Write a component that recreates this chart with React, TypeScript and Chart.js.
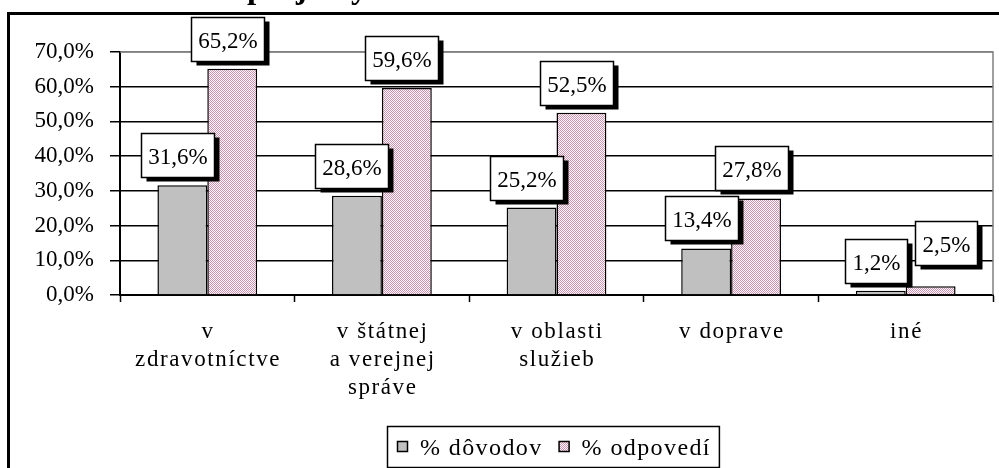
import React, { useEffect, useRef } from 'react';
import { Chart, registerables } from 'chart.js';

Chart.register(...registerables);

// ---- data ----
const categories: string[][] = [
  ['v', 'zdravotníctve'],
  ['v štátnej', 'a verejnej', 'správe'],
  ['v oblasti', 'služieb'],
  ['v doprave'],
  ['iné'],
];
const seriesNames = ['% dôvodov', '% odpovedí'];
const dovodov = [31.6, 28.6, 25.2, 13.4, 1.2];
const odpovedi = [65.2, 59.6, 52.5, 27.8, 2.5];
const yMin = 0;
const yMax = 70;
const yStep = 10;
const titleText = 'projekty';
// label nudges (dx, dy) per series, to mimic Excel overlap avoidance
const labelNudgeDovodov = [[0, 0], [0, 0], [0, 0], [0, 0], [0, 0]];
const labelNudgeOdpovedi = [[0, 0], [0, 0], [0, 0], [0, 0], [20, -13]];

const SERIF = '"Liberation Serif", "Times New Roman", serif';
const fmt = (v: number) => v.toFixed(1).replace('.', ',') + '%';

function makePattern(): CanvasPattern | string {
  const c = document.createElement('canvas');
  c.width = 2;
  c.height = 2;
  const g = c.getContext('2d');
  if (!g) return '#e6c3d3';
  g.fillStyle = '#ffffff';
  g.fillRect(0, 0, 2, 2);
  g.fillStyle = '#d690ae';
  g.fillRect(0, 0, 1, 1);
  g.fillRect(1, 1, 1, 1);
  const p = g.createPattern(c, 'repeat');
  return p || '#e6c3d3';
}

const decorPlugin = {
  id: 'decor',
  beforeDraw(chart: any) {
    const ctx: CanvasRenderingContext2D = chart.ctx;
    ctx.save();
    ctx.fillStyle = '#ffffff';
    ctx.fillRect(0, 0, chart.width, chart.height);
    // partially visible title (cut at top)
    ctx.font = `bold 33px ${SERIF}`;
    ctx.fillStyle = '#000';
    ctx.textAlign = 'left';
    ctx.textBaseline = 'alphabetic';
    ctx.fillText(titleText, 247, -2);
    // outer frame
    ctx.lineWidth = 3;
    ctx.strokeStyle = '#000';
    ctx.strokeRect(8.5, 13.5, 1200, 1000);
    ctx.restore();
  },
  beforeDatasetsDraw(chart: any) {
    const ctx: CanvasRenderingContext2D = chart.ctx;
    const a = chart.chartArea;
    ctx.save();
    ctx.strokeStyle = '#808080';
    ctx.lineWidth = 1.5;
    ctx.beginPath();
    ctx.moveTo(a.left, a.top);
    ctx.lineTo(a.right, a.top);
    ctx.lineTo(a.right, a.bottom);
    ctx.stroke();
    ctx.restore();
  },
  afterDatasetsDraw(chart: any) {
    const ctx: CanvasRenderingContext2D = chart.ctx;
    const nudges = [labelNudgeDovodov, labelNudgeOdpovedi];
    ctx.save();
    ctx.font = `23px ${SERIF}`;
    (ctx as any).letterSpacing = '0px';
    ctx.textAlign = 'center';
    ctx.textBaseline = 'alphabetic';
    chart.data.datasets.forEach((ds: any, di: number) => {
      const meta = chart.getDatasetMeta(di);
      meta.data.forEach((bar: any, i: number) => {
        const v = ds.data[i] as number;
        const text = fmt(v);
        const tw = ctx.measureText(text).width;
        const w = Math.round(tw + 14);
        const h = 44;
        const [dx, dy] = nudges[di][i];
        const cx = bar.x - 5 + dx;
        const bottom = bar.y - 8 + dy;
        const x = Math.round(cx - w / 2) + 0.5;
        const y = Math.round(bottom - h) + 0.5;
        ctx.fillStyle = '#000';
        ctx.fillRect(x + 5, y + 4, w, h);
        ctx.fillStyle = '#fff';
        ctx.fillRect(x, y, w, h);
        ctx.strokeStyle = '#000';
        ctx.lineWidth = 1.5;
        ctx.strokeRect(x, y, w, h);
        ctx.fillStyle = '#000';
        ctx.fillText(text, x + w / 2, y + h / 2 + 8.5);
      });
    });
    ctx.restore();
  },
  afterDraw(chart: any) {
    const ctx: CanvasRenderingContext2D = chart.ctx;
    const xs = chart.scales.x;
    ctx.save();
    // category labels
    ctx.font = `23px ${SERIF}`;
    (ctx as any).letterSpacing = '1.6px';
    ctx.fillStyle = '#000';
    ctx.textAlign = 'center';
    ctx.textBaseline = 'alphabetic';
    (chart.data.labels as string[][]).forEach((lines, i) => {
      const cx = xs.getPixelForValue(i) + 0.8;
      lines.forEach((line, j) => {
        ctx.fillText(line, cx, 338 + j * 28);
      });
    });
    // legend
    ctx.font = `24px ${SERIF}`;
    (ctx as any).letterSpacing = '1.4px';
    ctx.textAlign = 'left';
    const boxL = 387;
    const boxT = 426;
    const boxH = 41;
    const sq = 11;
    const items = chart.data.datasets.map((ds: any) => ({
      label: ds.label as string,
      fill: ds.backgroundColor,
      w: ctx.measureText(ds.label).width,
    }));
    let total = 10;
    items.forEach((it: any, k: number) => {
      total += sq + 12 + it.w;
      if (k < items.length - 1) total += 16;
    });
    total += 8;
    ctx.strokeStyle = '#000';
    ctx.lineWidth = 1.5;
    ctx.fillStyle = '#fff';
    ctx.fillRect(boxL, boxT, total, boxH);
    ctx.strokeRect(boxL + 0.5, boxT + 0.5, total, boxH);
    let x = boxL + 10;
    items.forEach((it: any) => {
      ctx.fillStyle = it.fill;
      ctx.fillRect(x, 441, sq, sq);
      ctx.lineWidth = 1.5;
      ctx.strokeStyle = '#000';
      ctx.strokeRect(x + 0.5, 441.5, sq - 1, sq - 1);
      ctx.fillStyle = '#000';
      ctx.fillText(it.label, x + sq + 12, 455);
      x += sq + 12 + it.w + 16;
    });
    (ctx as any).letterSpacing = '0px';
    ctx.restore();
  },
};

export default function App() {
  const ref = useRef<HTMLCanvasElement | null>(null);
  useEffect(() => {
    if (!ref.current) return;
    const pink = makePattern();
    const chart = new Chart(ref.current, {
      type: 'bar',
      data: {
        labels: categories as any,
        datasets: [
          {
            label: seriesNames[0],
            data: dovodov,
            backgroundColor: '#c0c0c0',
            borderColor: '#000',
            borderWidth: 1.5,
            barPercentage: 1,
            categoryPercentage: 2 / 3.5,
          },
          {
            label: seriesNames[1],
            data: odpovedi,
            backgroundColor: pink as any,
            borderColor: '#000',
            borderWidth: 1.5,
            barPercentage: 1,
            categoryPercentage: 2 / 3.5,
          },
        ],
      },
      options: {
        responsive: false,
        animation: false,
        devicePixelRatio: 1,
        events: [],
        layout: { padding: { left: 0, top: 52, right: 6, bottom: 0 } },
        plugins: {
          legend: { display: false },
          title: { display: false },
          tooltip: { enabled: false },
        },
        scales: {
          x: {
            type: 'category',
            offset: true,
            ticks: { display: false },
            grid: {
              display: true,
              offset: true,
              drawOnChartArea: false,
              drawTicks: true,
              tickLength: 7,
              tickColor: '#000',
              tickWidth: 1.5,
              color: '#000',
            },
            border: { display: true, color: '#000', width: 2 },
            afterFit: (s: any) => {
              s.height = 173;
            },
          },
          y: {
            min: yMin,
            max: yMax,
            ticks: {
              stepSize: yStep,
              color: '#000',
              padding: 16,
              font: { family: SERIF, size: 23 },
              callback: (v: any) => fmt(Number(v)),
            },
            grid: {
              color: (c: any) => (c.tick && c.tick.value === yMax ? '#808080' : '#000'),
              lineWidth: 1.5,
              drawTicks: true,
              tickLength: 10,
              tickColor: '#000',
              tickWidth: 1.5,
            },
            border: { display: true, color: '#000', width: 2 },
            afterFit: (s: any) => {
              s.width = 120;
            },
          },
        },
      },
      plugins: [decorPlugin as any],
    });
    return () => chart.destroy();
  }, []);
  return (
    <div style={{ position: 'absolute', left: 0, top: 0, width: 999, height: 468 }}>
      <canvas ref={ref} width={999} height={468} style={{ display: 'block', width: 999, height: 468 }} />
    </div>
  );
}
